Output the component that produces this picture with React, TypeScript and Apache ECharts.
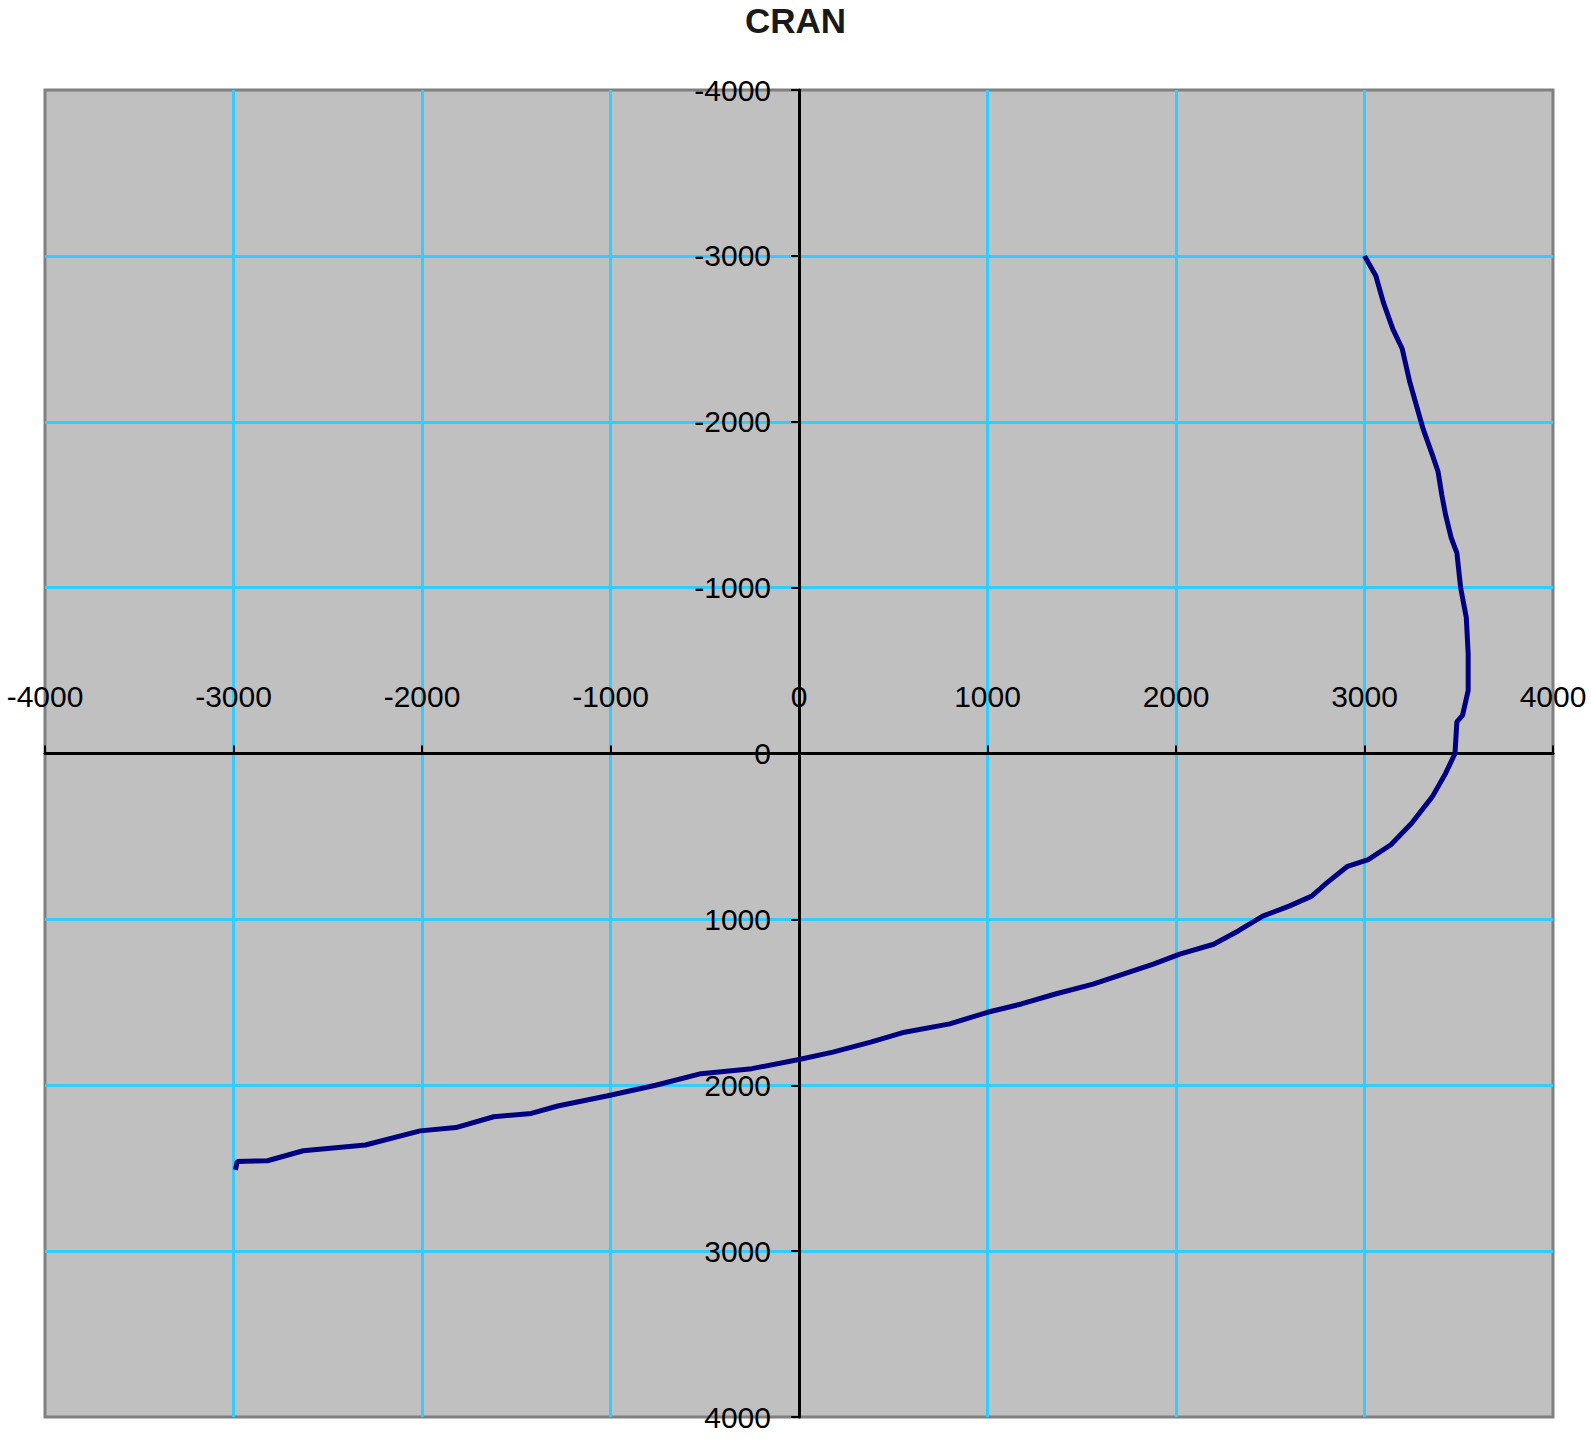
import React, { useEffect, useRef } from "react";
import * as echarts from "echarts";

// Horizontal offset (x) and depth (y) of the CRAN trajectory
const xValues = [
  3000, 3060, 3100, 3150, 3200, 3240, 3280, 3310, 3360, 3390, 3410, 3430, 3460, 3490, 3510, 3540,
  3550, 3550, 3520, 3490, 3480, 3430, 3360, 3250, 3140, 3020, 2910, 2800, 2720, 2600, 2460, 2330,
  2200, 2020, 1880, 1720, 1560, 1360, 1180, 1000, 800, 560, 380, 180, 0, -250, -520, -760, -1020,
  -1280, -1420, -1620, -1820, -2010, -2300, -2630, -2820, -2980, -2990,
];
const yValues = [
  -3000, -2880, -2720, -2560, -2440, -2240, -2080, -1960, -1800, -1700, -1560, -1440, -1300, -1210,
  -1000, -820, -600, -380, -230, -190, 0, 120, 260, 420, 550, 640, 680, 780, 860, 920, 980, 1070,
  1150, 1210, 1270, 1330, 1390, 1450, 1510, 1560, 1630, 1680, 1740, 1800, 1845, 1900, 1930, 2000,
  2065, 2125, 2170, 2190, 2255, 2275, 2360, 2395, 2455, 2460, 2510,
];
const axisMin = -4000;
const axisMax = 4000;
const axisStep = 1000;
const chartTitle = "CRAN";

const FONT = "'Liberation Sans', Arial, sans-serif";

const W = 1591;
const H = 1443;
const GRID = { left: 45, right: 38, top: 90, bottom: 26 };

export default function App() {
  const ref = useRef<HTMLDivElement>(null);

  useEffect(() => {
    document.body.style.margin = "0";
    document.body.style.overflow = "hidden";
    if (!ref.current) return;
    const chart = echarts.init(ref.current, null, { renderer: "svg" });
    const points = xValues.map((x, i) => [x, yValues[i]]);
    const gridW = W - GRID.left - GRID.right;
    const gridH = H - GRID.top - GRID.bottom;
    // place axes at the zero crossing (values are symmetric around 0)
    const zeroFracX = (0 - axisMin) / (axisMax - axisMin);
    const zeroFracY = (0 - axisMin) / (axisMax - axisMin);
    const labelStyle = {
      color: "#000",
      fontFamily: FONT,
      fontSize: 30,
      formatter: (v: number) => String(v),
    };
    chart.setOption({
      animation: false,
      backgroundColor: "#ffffff",
      title: {
        text: chartTitle,
        left: "center",
        top: 3,
        padding: 0,
        textStyle: {
          fontFamily: FONT,
          fontWeight: "bold",
          fontSize: 35,
          color: "#1a1a1a",
        },
      },
      grid: {
        ...GRID,
        containLabel: false,
        outerBoundsMode: "none",
        show: true,
        backgroundColor: "#C0C0C0",
        borderColor: "#808080",
        borderWidth: 3,
      },
      xAxis: {
        type: "value",
        position: "top",
        offset: -gridH * zeroFracY,
        min: axisMin,
        max: axisMax,
        interval: axisStep,
        axisLine: { show: true, onZero: false, lineStyle: { color: "#000", width: 3 } },
        axisTick: { show: true, length: 8, lineStyle: { color: "#000", width: 2 } },
        axisLabel: { ...labelStyle, margin: 42, showMinLabel: true, showMaxLabel: true, hideOverlap: false },
        splitLine: {
          show: true,
          showMinLine: false,
          showMaxLine: false,
          lineStyle: { color: "#33CCFF", width: 3 },
        },
      },
      yAxis: {
        type: "value",
        position: "left",
        offset: -gridW * zeroFracX,
        inverse: true,
        min: axisMin,
        max: axisMax,
        interval: axisStep,
        axisLine: { show: true, onZero: false, lineStyle: { color: "#000", width: 3 } },
        axisTick: { show: true, length: 8, lineStyle: { color: "#000", width: 2 } },
        axisLabel: { ...labelStyle, margin: 28, showMinLabel: true, showMaxLabel: true, hideOverlap: false },
        splitLine: {
          show: true,
          showMinLine: false,
          showMaxLine: false,
          lineStyle: { color: "#33CCFF", width: 3 },
        },
      },
      series: [
        {
          type: "line",
          data: points,
          showSymbol: false,
          symbol: "none",
          lineStyle: { color: "#000080", width: 5 },
          z: 5,
        },
      ],
    });
    return () => chart.dispose();
  }, []);

  return <div ref={ref} style={{ width: W, height: H, display: "block" }} />;
}
